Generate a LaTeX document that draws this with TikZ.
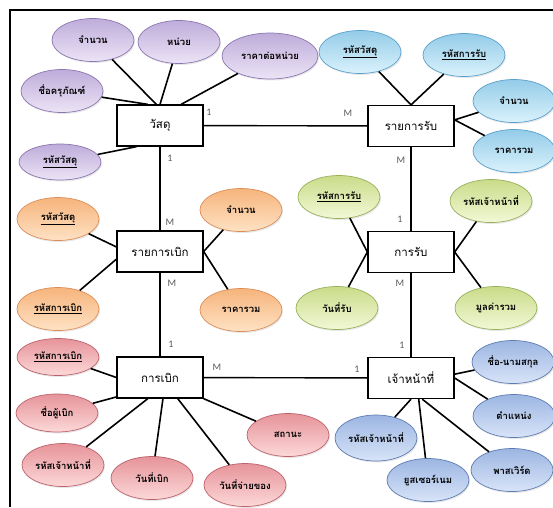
\documentclass[tikz,border=0pt]{standalone}
\usepackage{fontspec}
\usepackage{tikz}
\usetikzlibrary{shapes.geometric,shadows}
\setmainfont[Script=Thai]{Loma}
\newfontfamily\cardfont{Carlito}

\definecolor{vioTop}{RGB}{236,228,246}
\definecolor{vioMid}{RGB}{218,204,234}
\definecolor{vioBot}{RGB}{190,172,218}
\definecolor{vioLine}{RGB}{140,118,176}
\definecolor{cyanTop}{RGB}{218,242,252}
\definecolor{cyanMid}{RGB}{186,226,244}
\definecolor{cyanBot}{RGB}{148,204,232}
\definecolor{cyanLine}{RGB}{92,160,204}
\definecolor{orgTop}{RGB}{254,226,196}
\definecolor{orgMid}{RGB}{251,204,160}
\definecolor{orgBot}{RGB}{246,180,124}
\definecolor{orgLine}{RGB}{220,142,90}
\definecolor{grnTop}{RGB}{242,248,214}
\definecolor{grnMid}{RGB}{226,236,180}
\definecolor{grnBot}{RGB}{202,220,138}
\definecolor{grnLine}{RGB}{152,176,92}
\definecolor{pnkTop}{RGB}{252,216,216}
\definecolor{pnkMid}{RGB}{244,186,188}
\definecolor{pnkBot}{RGB}{230,148,154}
\definecolor{pnkLine}{RGB}{188,98,108}
\definecolor{bluTop}{RGB}{216,228,248}
\definecolor{bluMid}{RGB}{190,208,238}
\definecolor{bluBot}{RGB}{156,182,226}
\definecolor{bluLine}{RGB}{94,124,178}

% y axis points down here, so the shading is given upside down
\tikzset{
  attr/.style={ellipse,draw=#1Line,top color=#1Bot,middle color=#1Mid,bottom color=#1Top,
    line width=0.7pt,minimum width=82pt,minimum height=43pt,inner sep=0pt,
    font=\bfseries\fontsize{9.5}{11}\selectfont,
    drop shadow={opacity=0.18,shadow xshift=1pt,shadow yshift=-1.5pt}},
  card/.style={font=\cardfont\fontsize{10}{12}\selectfont,text=black!65,inner sep=1pt}
}

\begin{document}
\begin{tikzpicture}[x=1pt,y=-1pt]
\useasboundingbox (0,0) rectangle (553,507);
\draw[line width=1.8pt] (10,507) -- (10,10) -- (553,10);

\begin{scope}[every node/.style={rectangle,draw,line width=1.3pt,fill=white,
              minimum width=86pt,minimum height=41pt,font=\fontsize{11.5}{13}\selectfont}]
    \node (V)  at (160,125.5) {วัสดุ};
    \node (RR) at (411,126)   {รายการรับ};
    \node (RB) at (160,251.5) {รายการเบิก};
    \node (R)  at (411,252)   {การรับ};
    \node (B)  at (160,377.5) {การเบิก};
    \node (S)  at (411,378)   {เจ้าหน้าที่};
\end{scope}

% attributes of each entity
\begin{scope}[every node/.style={attr=vio}]
    \node (V1) at (93,40)   {จำนวน};
    \node (V2) at (179,42)  {หน่วย};
    \node (V3)[minimum width=96pt,minimum height=46pt] at (270,56) {ราคาต่อหน่วย};
    \node (V4) at (62,91)   {ชื่อครุภัณฑ์};
    \node (V5)[minimum height=36pt] at (60,162) {\underline{รหัสวัสดุ}};
\end{scope}
\begin{scope}[every node/.style={attr=cyan}]
    \node (RR1) at (360,52)  {\underline{รหัสวัสดุ}};
    \node (RR2) at (464,55)  {\underline{รหัสการรับ}};
    \node (RR3) at (514,101) {จำนวน};
    \node (RR4) at (514,151) {ราคารวม};
\end{scope}
\begin{scope}[every node/.style={attr=org}]
    \node (RB1) at (58,219)  {\underline{รหัสวัสดุ}};
    \node (RB2) at (58,309)  {\underline{รหัสการเบิก}};
    \node (RB3) at (241,210) {จำนวน};
    \node (RB4) at (241,310) {ราคารวม};
\end{scope}
\begin{scope}[every node/.style={attr=grn}]
    \node (R1) at (339,197) {\underline{รหัสการรับ}};
    \node (R2) at (337,308) {วันที่รับ};
    \node (R3) at (491,201) {รหัสเจ้าหน้าที่};
    \node (R4) at (496,308) {มูลค่ารวม};
\end{scope}
\begin{scope}[every node/.style={attr=pnk}]
    \node (B1)[minimum height=37pt] at (58,357) {\underline{รหัสการเบิก}};
    \node (B2)[minimum height=38pt] at (57,413) {ชื่อผู้เบิก};
    \node (B3) at (63,465)  {รหัสเจ้าหน้าที่};
    \node (B4) at (152,478) {วันที่เบิก};
    \node (B5) at (245,485) {วันที่จ่ายของ};
    \node (B6) at (288,435) {สถานะ};
\end{scope}
\begin{scope}[every node/.style={attr=blu}]
    \node (S1) at (513,362) {ชื่อ-นามสกุล};
    \node (S2) at (514,416) {ตำแหน่ง};
    \node (S3)[minimum height=46pt] at (376,438) {รหัสเจ้าหน้าที่};
    \node (S4) at (428,480) {ยูสเซอร์เนม};
    \node (S5) at (512,470) {พาสเวิร์ด};
\end{scope}

% relationships
\begin{scope}[every edge/.style={draw=black,line width=1.4pt}]
    \path (V) edge (RR);
    \path (V) edge (RB);
    \path (RB) edge (B);
    \path (RR) edge (R);
    \path (R) edge (S);
    \path (B) edge (S);
\end{scope}

\begin{scope}[every edge/.style={draw=black,line width=1.6pt}]
    \path (V.100) edge (V1);
    \path (V.north) edge (V2);
    \path (V.45) edge (V3);
    \path (V.120) edge (V4);
    \path (V.222) edge (V5);
    \path (RR.north) edge (RR1);
    \path (RR.north) edge (RR2);
    \path (RR.8) edge (RR3);
    \path (RR.8) edge (RR4);
    \path (RB.174) edge (RB1);
    \path (RB.190) edge (RB2);
    \path (RB.east) edge (RB3);
    \path (RB.east) edge (RB4);
    \path (R.west) edge (R1);
    \path (R.west) edge (R2);
    \path (R.east) edge (R3);
    \path (R.east) edge (R4);
    \path (B.west) edge (B1);
    \path (B.204) edge (B2);
    \path (B.240) edge (B3);
    \path (B.278) edge (B4);
    \path (B.310) edge (B5);
    \path (B.south east) edge (B6);
    \path (S.5) edge (S1);
    \path (S.east) edge (S2);
    \path (S.south) edge (S3);
    \path (S.290) edge (S4);
    \path (S.298) edge (S5);
\end{scope}

% cardinalities
\begin{scope}[every node/.style={card}]
    \node (c1)  at (209,112) {1};
    \node (c2)  at (348,113) {M};
    \node (c3)  at (170,158) {1};
    \node (c4)  at (170,222) {M};
    \node (c5)  at (172,283) {M};
    \node (c6)  at (171,344) {1};
    \node (c7)  at (401,160) {M};
    \node (c8)  at (400,219) {1};
    \node (c9)  at (400,283) {M};
    \node (c10) at (402,345) {1};
    \node (c11) at (217,367) {M};
    \node (c12) at (357,369) {1};
\end{scope}
\end{tikzpicture}
\end{document}
